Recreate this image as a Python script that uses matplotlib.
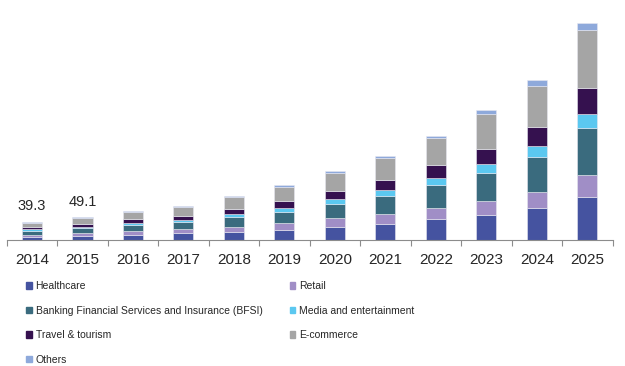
import numpy as np
import matplotlib
matplotlib.use('Agg')
import matplotlib.pyplot as plt
from matplotlib.patches import Patch

plt.rcParams['font.family'] = ['Liberation Sans', 'DejaVu Sans']

# data (USD billion)
years = ['2014', '2015', '2016', '2017', '2018', '2019',
         '2020', '2021', '2022', '2023', '2024', '2025']
healthcare = [5.7, 9.2, 11.4, 14.2, 17.8, 22.1, 28.6, 34.4, 45.2, 54.4, 68.2, 93.1]
retail = [5.9, 6.4, 8.0, 8.6, 11.4, 15.7, 18.7, 21.5, 23.7, 30.1, 34.4, 45.8]
bfsi = [8.7, 10.0, 12.9, 15.1, 20.9, 23.0, 30.1, 39.3, 50.1, 60.8, 76.8, 103.2]
media = [2.8, 3.4, 3.4, 5.2, 5.8, 8.0, 10.8, 12.9, 13.5, 17.8, 22.1, 30.1]
travel = [4.4, 5.1, 8.6, 9.2, 12.0, 15.7, 17.8, 22.1, 28.0, 33.8, 40.9, 55.9]
ecommerce = [9.6, 12.8, 15.1, 17.8, 23.7, 28.6, 37.2, 47.3, 58.7, 73.7, 89.7, 124.1]
others = [2.2, 2.2, 2.2, 2.2, 3.0, 5.2, 4.3, 4.3, 4.9, 8.6, 12.9, 14.4]
annotated = {0: '39.3', 1: '49.1'}

series = [
    ('Healthcare', healthcare, '#4553a0'),
    ('Retail', retail, '#a08ec6'),
    ('Banking Financial Services and Insurance (BFSI)', bfsi, '#3a6b7e'),
    ('Media and entertainment', media, '#5bc8f0'),
    ('Travel & tourism', travel, '#35114f'),
    ('E-commerce', ecommerce, '#a5a5a5'),
    ('Others', others, '#8ea9db'),
]

fig = plt.figure(figsize=(6.25, 3.66), dpi=100)
ax = fig.add_axes([0.0107, 0.344, 0.9693, 0.615])

x = np.arange(len(years))
bottom = np.zeros(len(years))
for name, vals, col in series:
    ax.bar(x, vals, 0.4, bottom=bottom, color=col, edgecolor='#e8e8f0', linewidth=0.4, label=name)
    bottom += np.array(vals)

for i, txt in annotated.items():
    ax.annotate(txt, (x[i], bottom[i]), xytext=(0, 6), textcoords='offset points',
                ha='center', va='bottom', fontsize=10.5, color='#262626')

ax.set_xlim(-0.5, 11.5)
ax.set_ylim(0, 484)
ax.set_yticks([])
for s in ['left', 'right', 'top']:
    ax.spines[s].set_visible(False)
ax.spines['bottom'].set_color('#8c8c8c')
ax.spines['bottom'].set_linewidth(0.8)
ax.set_xticks(x)
ax.set_xticklabels(years, fontsize=11, color='#262626')
ax.tick_params(axis='x', which='major', length=0, pad=9)
ax.set_xticks(np.arange(-0.5, 12, 1), minor=True)
ax.tick_params(axis='x', which='minor', length=4, color='#8c8c8c', width=0.8)

# legend, row-major order like the original
handles = [Patch(color=c) for _, _, c in series]
labels = [n for n, _, _ in series]
order = [0, 2, 4, 6, 1, 3, 5]
fig.legend([handles[i] for i in order], [labels[i] for i in order],
           loc='upper left', bbox_to_anchor=(0.042, 0.232), ncol=2, frameon=False,
           fontsize=7.5, handlelength=0.55, handleheight=0.55, handletextpad=0.35,
           labelspacing=1.4, columnspacing=2.6, borderaxespad=0, borderpad=0,
           labelcolor='#262626')

fig.savefig('out.png', dpi=100)
